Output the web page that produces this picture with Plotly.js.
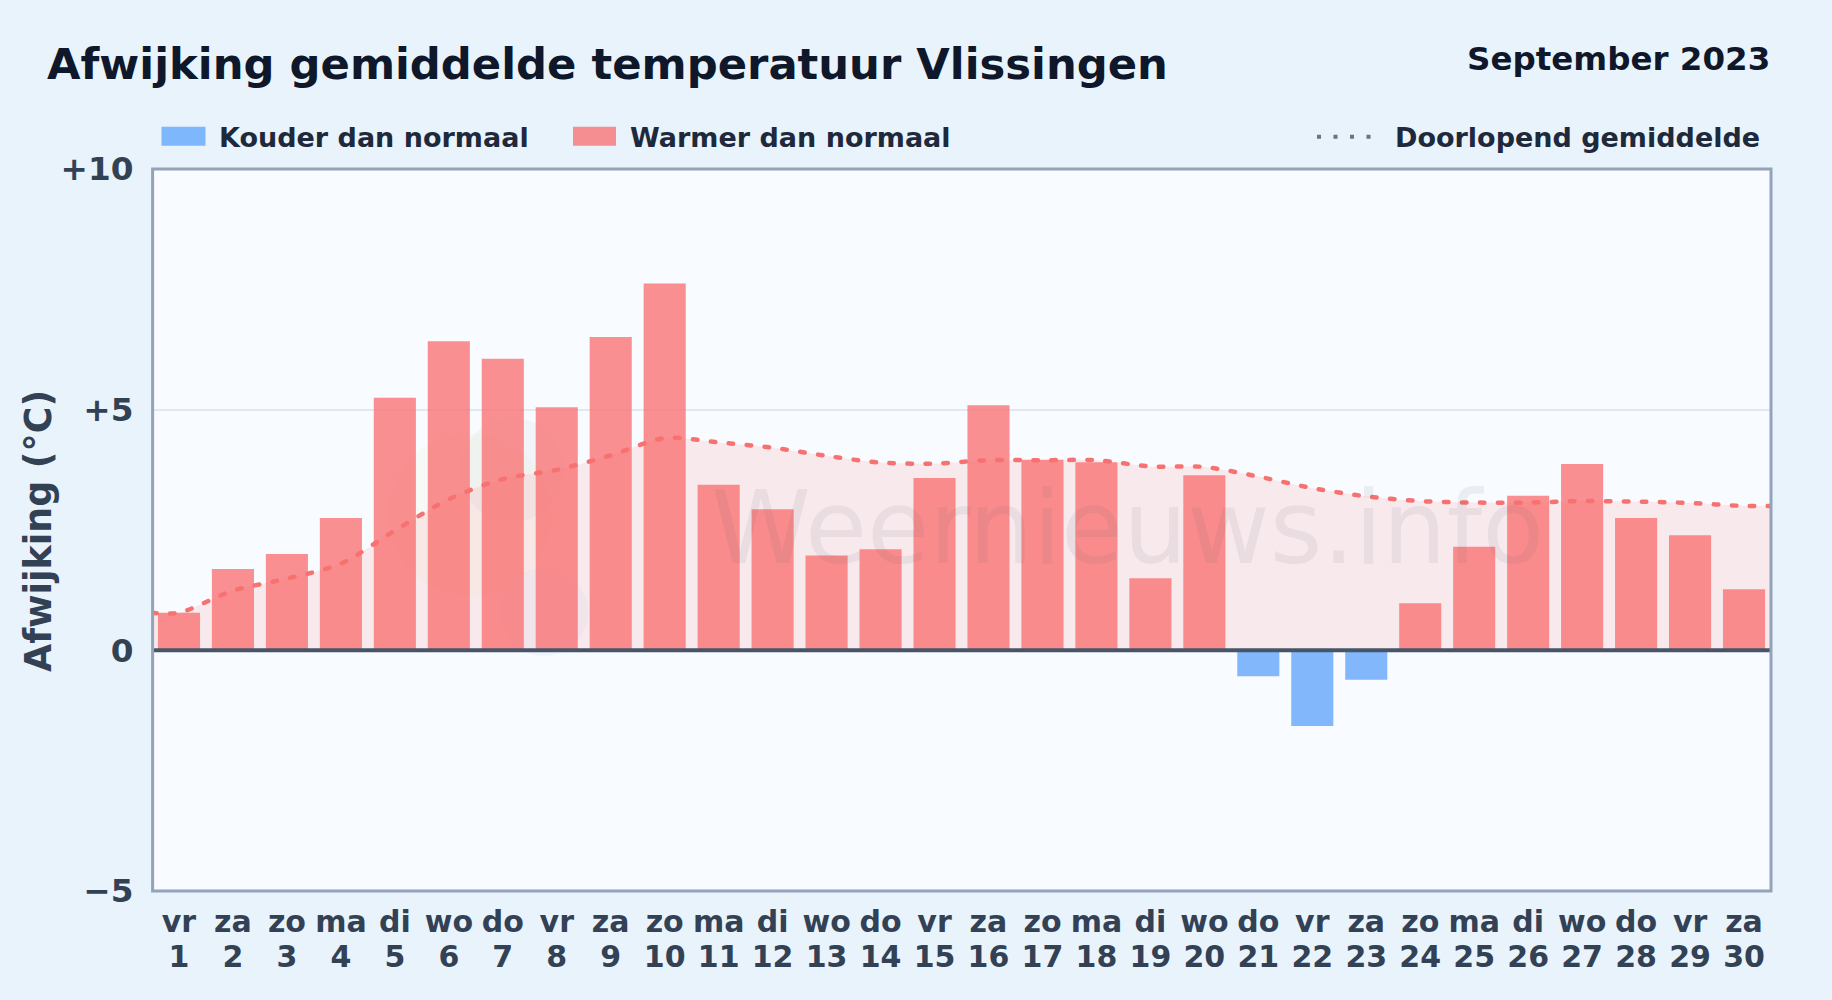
<!DOCTYPE html>
<html>
<head>
<meta charset="utf-8">
<script src="https://cdn.plot.ly/plotly-3.0.1.min.js"></script>
<style>
html,body{margin:0;padding:0;background:#e8f3fc}
#chart .js-line{stroke-linecap:round}
</style>
</head>
<body>
<div id="chart" style="width:1832px;height:1000px"></div>
<script>
const weekdays = ["vr","za","zo","ma","di","wo","do","vr","za","zo","ma","di","wo","do","vr","za","zo","ma","di","wo","do","vr","za","zo","ma","di","wo","do","vr","za"];
const days = [1,2,3,4,5,6,7,8,9,10,11,12,13,14,15,16,17,18,19,20,21,22,23,24,25,26,27,28,29,30];
const warmer = [0.78,1.69,2.0,2.75,5.25,6.42,6.06,5.05,6.51,7.62,3.44,2.93,1.97,2.10,3.58,5.09,3.96,3.91,1.5,3.64,null,null,null,0.98,2.15,3.21,3.87,2.75,2.39,1.27];
const colder = [null,null,null,null,null,null,null,null,null,null,null,null,null,null,null,null,null,null,null,null,-0.54,-1.57,-0.61,null,null,null,null,null,null,null];
const meanX = [0.5,1,2,3,4,5,6,7,8,9,10,11,12,13,14,15,16,17,18,19,20,21,22,23,24,25,26,27,28,29,30,30.5];
const meanY = [0.78,0.78,1.24,1.49,1.80,2.49,3.14,3.56,3.75,4.05,4.41,4.32,4.21,4.04,3.90,3.88,3.95,3.95,3.95,3.82,3.81,3.61,3.37,3.20,3.10,3.07,3.07,3.10,3.09,3.06,3.0,3.0];
const yTickVals = [-5,0,5,10];
const yTickText = ["\u22125","0","+5","+10"];
const titleText = "Afwijking gemiddelde temperatuur Vlissingen";
const periodText = "September 2023";
const coldLabel = "Kouder dan normaal";
const warmLabel = "Warmer dan normaal";
const meanLabel = "Doorlopend gemiddelde";
const yTitle = "Afwijking (\u00b0C)";
const watermark = "Weernieuws.info";

const W=1832,H=1000,L=152,R=1771,T=169.3,B=890.7;
const px=x=>(x-L)/(R-L), py=y=>(B-y)/(B-T);
const font="'DejaVu Sans', sans-serif";
const RED="rgba(248,113,113,0.78)", BLUE="rgba(96,165,250,0.78)";
const spline={shape:"spline",smoothing:0.8};

const traces=[
 {type:"scatter",mode:"lines",x:meanX,y:meanY,xaxis:"x",yaxis:"y",fill:"tozeroy",fillcolor:"rgba(248,113,113,0.13)",hoverinfo:"skip",
  line:Object.assign({color:"rgba(0,0,0,0)",width:0},spline)},
 {type:"bar",x:days,y:warmer,xaxis:"x2",yaxis:"y",width:0.78,marker:{color:RED,line:{width:0}},name:warmLabel},
 {type:"bar",x:days,y:colder,xaxis:"x2",yaxis:"y",width:0.78,marker:{color:BLUE,line:{width:0}},name:coldLabel},
 {type:"scatter",mode:"lines",x:meanX,y:meanY,xaxis:"x2",yaxis:"y",name:meanLabel,
  line:Object.assign({color:"#f87171",width:4.5,dash:"4.5px,13.5px"},spline)}
];
function txt(text,x,y,size,color,anchor){
 return {text:text,xref:"paper",yref:"paper",x:px(x),y:py(y),xanchor:anchor||"left",yanchor:"middle",showarrow:false,
  font:{family:font,size:size,color:color,weight:700}};
}
const annotations=[
 txt(titleText,44.5,64,43.3,"#0f172a"),
 txt(periodText,1772,59,32.5,"#0f172a","right"),
 txt(coldLabel,217,137.5,27,"#1e293b"),
 txt(warmLabel,628,137.5,27,"#1e293b"),
 txt(meanLabel,1393,137.5,27,"#1e293b"),
 Object.assign(txt(yTitle,38,531,36.4,"#334155","center"),{textangle:-90}),
 {text:watermark,xref:"paper",yref:"paper",x:px(1127),y:py(528),xanchor:"center",yanchor:"middle",showarrow:false,
  font:{family:font,size:101,color:"rgba(71,85,105,0.08)"}}
];
function rect(x0,y0,x1,y1,extra){return Object.assign({type:"rect",xref:"paper",yref:"paper",x0:px(x0),x1:px(x1),y0:py(y0),y1:py(y1),line:{width:0}},extra);}
function circle(cx,cy,r,color){return {type:"circle",layer:"below",xref:"paper",yref:"paper",x0:px(cx-r),x1:px(cx+r),y0:py(cy-r),y1:py(cy+r),fillcolor:color,line:{width:0}};}
const shapes=[
 circle(470,515,82,"rgba(250,240,170,0.10)"),
 circle(512,470,52,"rgba(71,85,105,0.04)"),
 circle(544,612,44,"rgba(96,130,200,0.05)"),
 rect(161.5,127,205.5,146,{fillcolor:BLUE}),
 rect(573,127,616,146,{fillcolor:RED}),
 {type:"line",xref:"paper",yref:"paper",x0:px(1317),x1:px(1375),y0:py(137),y1:py(137),line:{color:"#6b7280",width:4,dash:"4px,12.5px"}},
 {type:"line",layer:"above",xref:"paper",yref:"y",x0:0,x1:1,y0:0,y1:0,line:{color:"#475569",width:4}},
 rect(152.6,T,R,B,{layer:"above",line:{color:"#94a3b8",width:3},fillcolor:"rgba(0,0,0,0)"})
];
const tickFont={family:font,size:30,color:"#334155",weight:700};
const xBase={range:[0.5,30.5],tickmode:"array",tickvals:days,showgrid:false,zeroline:false,showline:false,ticks:"outside",
 tickcolor:"rgba(0,0,0,0)",tickangle:0,tickfont:tickFont};
const layout={
 width:W,height:H,showlegend:false,barmode:"overlay",
 paper_bgcolor:"#e8f3fc",plot_bgcolor:"#f8fbff",
 margin:{l:L,r:W-R,t:T,b:H-B,pad:0},
 font:{family:font},
 xaxis:Object.assign({},xBase,{ticktext:weekdays,ticklen:4}),
 xaxis2:Object.assign({},xBase,{ticktext:days,ticklen:39,overlaying:"x",side:"bottom",anchor:"y"}),
 yaxis:{range:[-5,10],tickmode:"array",tickvals:yTickVals,ticktext:yTickText,
  showgrid:true,gridcolor:"#e2e8f0",gridwidth:2,zeroline:false,showline:false,ticks:"outside",ticklen:11,tickcolor:"rgba(0,0,0,0)",
  tickfont:{family:font,size:32.7,color:"#334155",weight:700}},
 annotations:annotations,shapes:shapes
};
Plotly.newPlot("chart",traces,layout,{displayModeBar:false,staticPlot:true});
</script>
</body>
</html>
